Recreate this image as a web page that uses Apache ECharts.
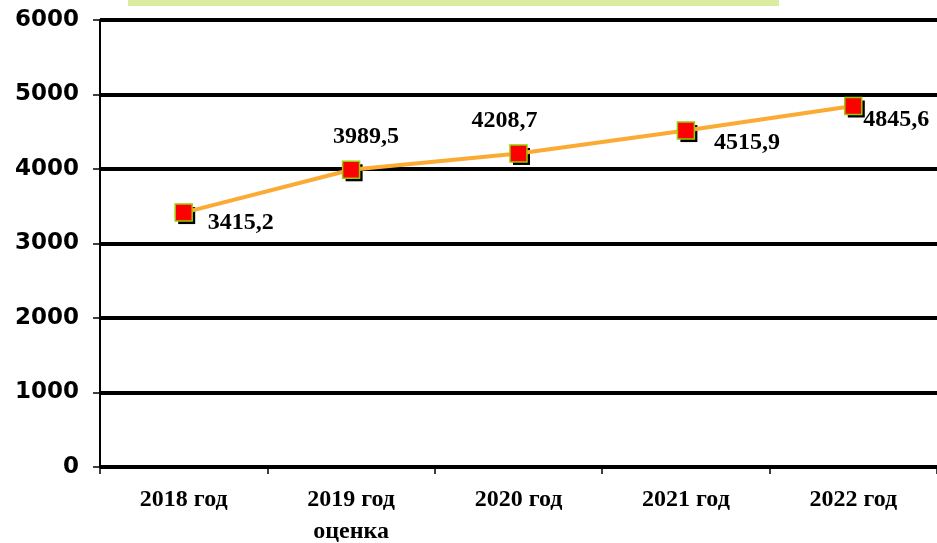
<!DOCTYPE html>
<html><head><meta charset="utf-8">
<script src="https://cdn.jsdelivr.net/npm/echarts@6/dist/echarts.min.js"></script>
<style>html,body{margin:0;padding:0;background:#fff}#c{width:937px;height:543px}</style>
</head><body><div id="c"></div>
<script>
const categories = ['2018 год', '2019 год\nоценка', '2020 год', '2021 год', '2022 год'];
const values = [3415.2, 3989.5, 4208.7, 4515.9, 4845.6];
const valueLabels = ['3415,2', '3989,5', '4208,7', '4515,9', '4845,6'];
const yTicks = [0, 1000, 2000, 3000, 4000, 5000, 6000];
const labelOffsets = [[57, 10], [15, -33], [-14, -33], [61, 12], [43, 14]];

const chart = echarts.init(document.getElementById('c'), null, {renderer: 'canvas'});
chart.setOption({
  animation: false,
  backgroundColor: '#fff',
  graphic: [{type: 'rect', left: 128, top: 0, shape: {width: 651, height: 6}, style: {fill: '#d9ec9f'}}],
  grid: {left: 100, right: 0, top: 20, bottom: 76, outerBoundsMode: 'none', containLabel: false},
  xAxis: {
    type: 'category', data: categories, boundaryGap: true,
    axisLine: {lineStyle: {color: '#000', width: 2}},
    axisTick: {show: true, length: 7, lineStyle: {color: '#000', width: 1.5}},
    axisLabel: {fontFamily: 'Liberation Serif', fontWeight: 'bold', fontSize: 24, color: '#000', margin: 17, lineHeight: 32, interval: 0}
  },
  yAxis: {
    type: 'value', min: yTicks[0], max: yTicks[yTicks.length - 1], interval: 1000,
    axisLine: {show: true, lineStyle: {color: '#000', width: 2}},
    axisTick: {show: true, length: 7, lineStyle: {color: '#000', width: 1.5}},
    splitLine: {show: true, lineStyle: {color: '#000', width: 4}},
    axisLabel: {fontFamily: 'DejaVu Sans', fontWeight: 'bold', fontSize: 23, color: '#000', margin: 21,
      formatter: v => String(v)}
  },
  series: [{
    type: 'line',
    data: values,
    symbol: 'rect', symbolSize: 17, symbolOffset: [3, 3],
    showAllSymbol: true,
    lineStyle: {width: 0, opacity: 0},
    itemStyle: {color: '#000', borderWidth: 0},
    silent: true,
    z: 3
  }, {
    type: 'line',
    data: values.map((v, i) => ({
      value: v,
      label: {show: true, position: 'inside', offset: labelOffsets[i], formatter: valueLabels[i]}
    })),
    symbol: 'rect', symbolSize: 17,
    lineStyle: {color: '#fbaa33', width: 4},
    itemStyle: {color: '#ff0000', borderColor: '#99cc00', borderWidth: 1.5},
    label: {fontFamily: 'Liberation Serif', fontWeight: 'bold', fontSize: 24, color: '#000'},
    z: 5
  }]
});
</script></body></html>
